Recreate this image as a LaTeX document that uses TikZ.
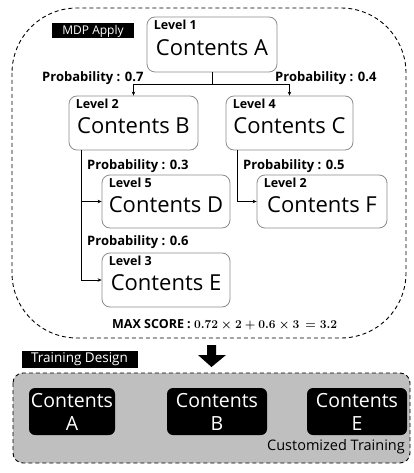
\documentclass[tikz,border=0pt]{standalone}
\usepackage{fontspec}
\setmainfont{Open Sans}
\usetikzlibrary{calc,arrows.meta}
\begin{document}
\begin{tikzpicture}[x=1pt,y=-1pt,
 cbox/.style={draw=black!45, line width=0.8pt, rounded corners=8pt, fill=white, minimum height=54pt, inner sep=0pt},
 lvl/.style={font=\fontsize{12.5}{14}\selectfont\bfseries, inner sep=0pt, anchor=north west},
 big/.style={font=\fontsize{22}{26}\selectfont, inner sep=0pt},
 prob/.style={font=\fontsize{13}{15}\selectfont\bfseries, inner sep=0pt, anchor=base west},
 tag/.style={fill=black, text=white, inner sep=0pt},
 dbox/.style={fill=black, rounded corners=6pt, minimum height=47pt, inner sep=0pt},
 wtxt/.style={text=white, font=\fontsize{19.5}{23}\selectfont, align=center, inner sep=0pt},
 conn/.style={line width=0.9pt, -{Stealth[length=4pt,width=3.5pt]}},
 dsh/.style={dash pattern=on 4pt off 3pt, line width=0.9pt}
]
\useasboundingbox (0,0) rectangle (413,473);
% regions
\draw[dsh, rounded corners=65pt] (12,8) rectangle (406,338);
\draw[dsh, fill=black!25, rounded corners=10pt] (13,373) rectangle (410,463);
% tags
\node[tag, minimum width=82pt, minimum height=15pt, font=\fontsize{12}{14}\selectfont] (mdp) at (93,31) {MDP Apply};
\node[tag, minimum width=116pt, minimum height=17pt, font=\fontsize{13.5}{16}\selectfont] (td) at (79.5,359) {Training Design};
% content boxes
\node[cbox, minimum width=130pt, minimum height=55pt] (A) at (212,44.5) {};
\node[cbox, minimum width=129pt] (B) at (133.5,123) {};
\node[cbox, minimum width=127pt] (C) at (289.5,123) {};
\node[cbox, minimum width=128pt, minimum height=53pt] (D) at (166,201.5) {};
\node[cbox, minimum width=130pt, minimum height=53pt] (F) at (322,201.5) {};
\node[cbox, minimum width=128pt] (E) at (166,280) {};
\foreach \n/\l/\c in {A/1/A, B/2/B, C/4/C, D/5/D, F/2/F, E/3/E}{
  \node[lvl] (lv\n) at ($(\n.north west)+(7,3)$) {Level \l};
  \node[big] (ct\n) at ($(\n.center)+(0,3)$) {Contents \c};
}
% connectors
\coordinate (j) at ($(A.south)+(0,12)$);
\draw[conn] (A.south) -- (j) -| (B.north);
\draw[conn] (A.south) -- (j) -| (C.north);
\draw[conn] ($(B.south west)+(13,0)$) |- (D.west);
\draw[conn] ($(B.south west)+(13,0)$) |- (E.west);
\draw[conn] ($(C.south west)+(12,0)$) |- (F.west);
% probabilities
\node[prob] (p1) at (42,81.5) {Probability : 0.7};
\node[prob] (p2) at (275,81.5) {Probability : 0.4};
\node[prob] (p3) at (87,169) {Probability : 0.3};
\node[prob] (p4) at (243,169) {Probability : 0.5};
\node[prob] (p5) at (87,245) {Probability : 0.6};
\node[prob, font=\fontsize{12.5}{15}\selectfont\bfseries] (ms) at (112,328) {MAX SCORE : {\boldmath$0.72\times 2+0.6\times 3\,=3.2$}};
% big arrow
\fill (207,345) -- (216,345) -- (216,355) -- (226,355) -- (211.5,367) -- (198,355) -- (207,355) -- cycle;
% training boxes
\node[dbox, minimum width=86pt] (tA) at (72,411.5) {};
\node[dbox, minimum width=100pt] (tB) at (217,411.5) {};
\node[dbox, minimum width=100pt] (tE) at (357,411.5) {};
\node[wtxt] at (tA.center) {Contents\\A};
\node[wtxt] at (tB.center) {Contents\\B};
\node[wtxt] at (tE.center) {Contents\\E};
\node[font=\fontsize{14.5}{16}\selectfont, inner sep=0pt, anchor=base east] (cust) at (405,450) {Customized Training};
\end{tikzpicture}
\end{document}
